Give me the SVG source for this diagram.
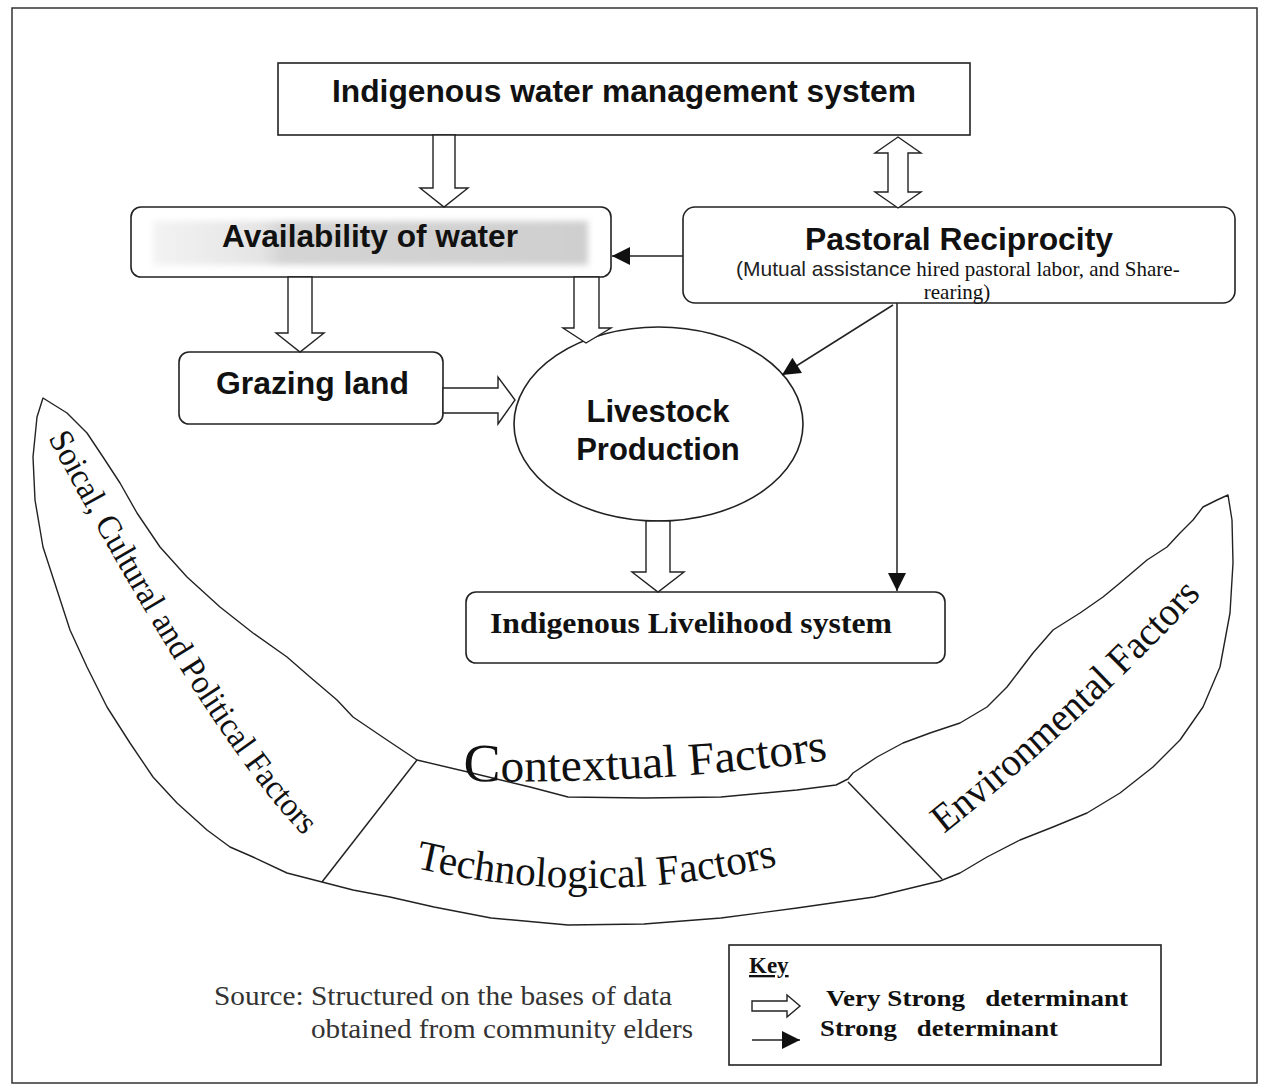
<svg xmlns="http://www.w3.org/2000/svg" width="1263" height="1085" viewBox="0 0 1263 1085">
<style>
.box{fill:#fff;stroke:#222;stroke-width:1.6}
.hol{fill:#fff;stroke:#222;stroke-width:1.4;stroke-linejoin:miter}
.ln{fill:none;stroke:#222;stroke-width:1.5}
.sans{font-family:"Liberation Sans",Arial,sans-serif;font-weight:bold;font-size:31px;fill:#111}
.sub{font-family:"Liberation Sans",Arial,sans-serif;font-size:21px;fill:#222}
.ser{font-family:"Liberation Serif","Times New Roman",serif;fill:#111}
.crescent{fill:#fff;stroke:#222;stroke-width:1.4;stroke-linejoin:round}
</style>
<defs>
<marker id="ah" markerUnits="userSpaceOnUse" markerWidth="20" markerHeight="18" viewBox="0 0 10 10" refX="10" refY="5" orient="auto">
<path d="M0,0 L10,5 L0,10 Z" fill="#111"/>
</marker>
<linearGradient id="gw" x1="0" y1="0" x2="1" y2="0">
<stop offset="0" stop-color="#f3f3f3"/>
<stop offset="0.25" stop-color="#e4e4e4"/>
<stop offset="0.3" stop-color="#d4d4d4"/>
<stop offset="1" stop-color="#cfcfcf"/>
</linearGradient>
<filter id="bl" x="-5%" y="-20%" width="110%" height="140%"><feGaussianBlur stdDeviation="3"/></filter>
<path id="pSoc" d="M 48 438 Q 216 752 312 844"/>
<path id="pCon" d="M 463 781 Q 660 785 834 759"/>
<path id="pTec" d="M 415 868 Q 598 910 784 864"/>
<path id="pEnv" d="M 944 834 Q 1080 726 1206 590"/>
</defs>
<rect x="12" y="8" width="1245" height="1075" fill="#fff" stroke="#333" stroke-width="1.5"/>

<g id="contextual">
<path class="crescent" d="M43,398 L37,417 L33,457 L35,500 L43,547 L57,590 L70,630 L87,667 L107,707 L130,743 L153,777 L177,803 L207,830 L230,847 L253,857 L287,873 L322,882 L353,890 L390,897 L434,907 L491,918 L568,925 L644,924 L721,918 L797,908 L874,897 L940,881 L960,873 L987,857 L1020,840 L1053,827 L1087,813 L1120,793 L1153,767 L1180,740 L1203,707 L1220,667 L1230,613 L1233,563 L1232,520 L1228,495 L1217,500 L1203,507 L1193,520 L1180,533 L1167,547 L1147,560 L1120,583 L1103,597 L1080,613 L1053,630 L1033,653 L1007,687 L987,707 L960,723 L930,733 L903,743 L877,757 L853,773 L848,779 L836,785 L797,790 L721,797 L644,798 L568,797 L530,787 L472,773 L417,760 L387,740 L353,717 L337,700 L310,677 L287,657 L253,633 L220,607 L187,577 L160,547 L137,513 L120,483 L103,457 L87,433 L67,413 Z"/>
<line class="ln" x1="417" y1="760" x2="322" y2="882"/>
<line class="ln" x1="848" y1="782" x2="942" y2="879"/>
<text class="ser" font-size="34" textLength="474" lengthAdjust="spacingAndGlyphs"><textPath href="#pSoc">Soical, Cultural and Political Factors</textPath></text>
<text class="ser" font-size="46" textLength="366" lengthAdjust="spacingAndGlyphs"><textPath href="#pCon"><tspan font-size="54">C</tspan>ontextual Factors</textPath></text>
<text class="ser" font-size="42" textLength="366" lengthAdjust="spacingAndGlyphs"><textPath href="#pTec">Technological Factors</textPath></text>
<text class="ser" font-size="40" textLength="352" lengthAdjust="spacingAndGlyphs"><textPath href="#pEnv">Environmental Factors</textPath></text>
</g>

<g id="n-water-mgmt">
<rect class="box" x="278" y="63" width="692" height="72"/>
<text class="sans" x="624" y="102" text-anchor="middle" textLength="584" lengthAdjust="spacingAndGlyphs">Indigenous water management system</text>
</g>

<g id="n-availability">
<rect class="box" x="131" y="207" width="480" height="70" rx="10"/>
<rect x="153" y="221" width="435" height="44" fill="url(#gw)" filter="url(#bl)"/>
<text class="sans" x="370" y="247" text-anchor="middle" textLength="296" lengthAdjust="spacingAndGlyphs">Availability of water</text>
</g>

<g id="n-pastoral">
<rect class="box" x="683" y="207" width="552" height="96" rx="12"/>
<text class="sans" x="959" y="250" text-anchor="middle" textLength="308" lengthAdjust="spacingAndGlyphs">Pastoral Reciprocity</text>
<text x="736" y="276"><tspan class="sub">(Mutual assistance</tspan><tspan class="ser" font-size="21"> hired pastoral labor, and Share-</tspan></text>
<text class="ser" font-size="21" x="957" y="299" text-anchor="middle">rearing)</text>
</g>

<g id="n-grazing">
<rect class="box" x="179" y="352" width="264" height="72" rx="10"/>
<text class="sans" x="216" y="394" textLength="193" lengthAdjust="spacingAndGlyphs">Grazing land</text>
</g>

<g id="n-livestock">
<ellipse class="box" cx="658.5" cy="424" rx="144.5" ry="97"/>
<text class="sans" x="658" y="422" text-anchor="middle">Livestock</text>
<text class="sans" x="658" y="460" text-anchor="middle">Production</text>
</g>

<g id="n-livelihood">
<rect class="box" x="466" y="592" width="479" height="71" rx="10"/>
<text class="ser" font-weight="bold" font-size="29" x="490" y="633" textLength="402" lengthAdjust="spacingAndGlyphs">Indigenous Livelihood system</text>
</g>

<g id="connectors">
<polygon class="hol" points="433,135 455,135 455,188 468,188 444,207 420,188 433,188"/>
<polygon class="hol" points="898,137 921,153 908,153 908,192 921,192 898,208 875,192 888,192 888,153 875,153"/>
<polygon class="hol" points="288,277 312,277 312,333 324,333 300,352 276,333 288,333"/>
<polygon class="hol" points="574,277 599,277 599,328 611,328 586,343 563,328 574,328"/>
<polygon class="hol" points="443,388 498,388 498,377 515,400 498,424 498,413 443,413"/>
<polygon class="hol" points="646,521 670,521 670,572 684,572 658,592 632,572 646,572"/>
<line class="ln" x1="683" y1="256" x2="612" y2="256" marker-end="url(#ah)"/>
<line class="ln" x1="893" y1="305" x2="782" y2="375" marker-end="url(#ah)"/>
<line class="ln" x1="897" y1="303" x2="897" y2="591" marker-end="url(#ah)"/>
</g>

<g id="source">
<text class="ser" font-size="28" x="214" y="1005" textLength="458" lengthAdjust="spacingAndGlyphs" style="fill:#333">Source: Structured on the bases of data</text>
<text class="ser" font-size="28" x="311" y="1038" textLength="382" lengthAdjust="spacingAndGlyphs" style="fill:#333">obtained from community elders</text>
</g>

<g id="key">
<rect x="729" y="945" width="432" height="120" fill="#fff" stroke="#222" stroke-width="1.6"/>
<text class="ser" font-weight="bold" font-size="23" x="749" y="973" text-decoration="underline">Key</text>
<polygon class="hol" points="752,1001 787,1001 787,995 800,1006 787,1017 787,1011 752,1011"/>
<text class="ser" font-weight="bold" font-size="24" x="826" y="1006" textLength="302" lengthAdjust="spacingAndGlyphs" xml:space="preserve">Very Strong   determinant</text>
<line class="ln" x1="752" y1="1040" x2="800" y2="1040" marker-end="url(#ah)"/>
<text class="ser" font-weight="bold" font-size="24" x="820" y="1036" textLength="238" lengthAdjust="spacingAndGlyphs" xml:space="preserve">Strong   determinant</text>
</g>
</svg>
